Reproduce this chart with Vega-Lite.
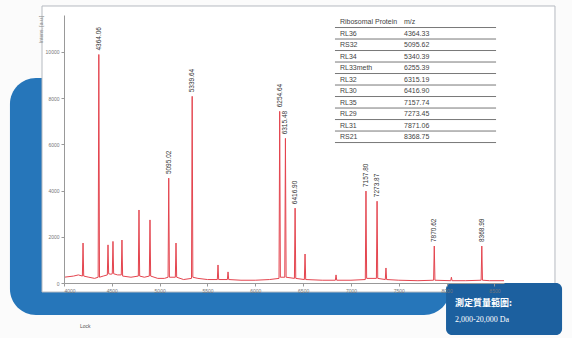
{
  "$schema": "https://vega.github.io/schema/vega-lite/v6.json",
  "width": 440,
  "height": 268,
  "autosize": {"type": "none"},
  "padding": {"left": 64, "top": 15, "right": 68, "bottom": 55},
  "background": "#fbfbfb",
  "config": {"view": {"stroke": null}, "font": "Liberation Sans"},
  "datasets": {
    "one": [{"k": 1}],
    "spectrum": [
      {"mz": 4000, "i": 250}, {"mz": 4100, "i": 300}, {"mz": 4150, "i": 350}, {"mz": 4192, "i": 300},
      {"mz": 4199, "i": 1730}, {"mz": 4206, "i": 300}, {"mz": 4260, "i": 250}, {"mz": 4320, "i": 200},
      {"mz": 4357, "i": 250}, {"mz": 4364, "i": 9890}, {"mz": 4371, "i": 250}, {"mz": 4410, "i": 300},
      {"mz": 4453, "i": 350}, {"mz": 4460, "i": 1650}, {"mz": 4467, "i": 400}, {"mz": 4490, "i": 380},
      {"mz": 4505, "i": 400}, {"mz": 4512, "i": 1800}, {"mz": 4519, "i": 400}, {"mz": 4560, "i": 350},
      {"mz": 4599, "i": 350}, {"mz": 4606, "i": 1860}, {"mz": 4613, "i": 300}, {"mz": 4700, "i": 250},
      {"mz": 4777, "i": 300}, {"mz": 4784, "i": 3160}, {"mz": 4791, "i": 300}, {"mz": 4840, "i": 250},
      {"mz": 4892, "i": 300}, {"mz": 4899, "i": 2730}, {"mz": 4906, "i": 300}, {"mz": 4980, "i": 200},
      {"mz": 5050, "i": 200}, {"mz": 5088, "i": 250}, {"mz": 5095, "i": 4540}, {"mz": 5102, "i": 250},
      {"mz": 5164, "i": 250}, {"mz": 5171, "i": 1730}, {"mz": 5178, "i": 250}, {"mz": 5250, "i": 150},
      {"mz": 5333, "i": 200}, {"mz": 5340, "i": 8080}, {"mz": 5347, "i": 250}, {"mz": 5400, "i": 200},
      {"mz": 5500, "i": 150}, {"mz": 5603, "i": 150}, {"mz": 5610, "i": 780}, {"mz": 5617, "i": 150},
      {"mz": 5708, "i": 150}, {"mz": 5715, "i": 480}, {"mz": 5722, "i": 150}, {"mz": 5850, "i": 120},
      {"mz": 6000, "i": 120}, {"mz": 6150, "i": 150}, {"mz": 6248, "i": 200}, {"mz": 6255, "i": 7430},
      {"mz": 6262, "i": 250}, {"mz": 6308, "i": 250}, {"mz": 6315, "i": 6260}, {"mz": 6322, "i": 250},
      {"mz": 6409, "i": 200}, {"mz": 6416, "i": 3240}, {"mz": 6423, "i": 200}, {"mz": 6513, "i": 150},
      {"mz": 6520, "i": 1255}, {"mz": 6527, "i": 150}, {"mz": 6700, "i": 120}, {"mz": 6837, "i": 120},
      {"mz": 6844, "i": 350}, {"mz": 6851, "i": 120}, {"mz": 7000, "i": 120}, {"mz": 7150, "i": 150},
      {"mz": 7157, "i": 3980}, {"mz": 7164, "i": 200}, {"mz": 7266, "i": 200}, {"mz": 7273, "i": 3540},
      {"mz": 7280, "i": 200}, {"mz": 7359, "i": 150}, {"mz": 7366, "i": 650}, {"mz": 7373, "i": 150},
      {"mz": 7500, "i": 120}, {"mz": 7700, "i": 100}, {"mz": 7864, "i": 120}, {"mz": 7871, "i": 1600},
      {"mz": 7878, "i": 120}, {"mz": 8043, "i": 100}, {"mz": 8050, "i": 250}, {"mz": 8057, "i": 100},
      {"mz": 8200, "i": 100}, {"mz": 8361, "i": 120}, {"mz": 8368, "i": 1600}, {"mz": 8375, "i": 120},
      {"mz": 8450, "i": 100}, {"mz": 8600, "i": 100}
    ],
    "peaks": [
      {"mz": 4364, "i": 9890, "label": "4364.06"},
      {"mz": 5095, "i": 4540, "label": "5095.02"},
      {"mz": 5340, "i": 8080, "label": "5339.64"},
      {"mz": 6255, "i": 7430, "label": "6254.64"},
      {"mz": 6315, "i": 6260, "label": "6315.48"},
      {"mz": 6416, "i": 3240, "label": "6416.90"},
      {"mz": 7157, "i": 3980, "label": "7157.80"},
      {"mz": 7273, "i": 3540, "label": "7273.87"},
      {"mz": 7871, "i": 1600, "label": "7870.62"},
      {"mz": 8368, "i": 1600, "label": "8368.99"}
    ],
    "table": [
      {"protein": "Ribosomal Protein", "value": "m/z"},
      {"protein": "RL36", "value": "4364.33"},
      {"protein": "RS32", "value": "5095.62"},
      {"protein": "RL34", "value": "5340.39"},
      {"protein": "RL33meth", "value": "6255.39"},
      {"protein": "RL32", "value": "6315.19"},
      {"protein": "RL30", "value": "6416.90"},
      {"protein": "RL35", "value": "7157.74"},
      {"protein": "RL29", "value": "7273.45"},
      {"protein": "RL31", "value": "7871.06"},
      {"protein": "RS21", "value": "8368.75"}
    ]
  },
  "resolve": {"scale": {"y": "independent"}},
  "layer": [
    {
      "layer": [
        {
          "data": {"name": "one"},
          "mark": {"type": "rect", "color": "#2676ba", "cornerRadius": 26, "clip": false},
          "encoding": {
            "x": {"datum": 3435, "type": "quantitative", "scale": {"domain": [4000, 8600], "nice": false, "zero": false},
              "axis": {"values": [4000, 4500, 5000, 5500, 6000, 6500, 7000, 7500, 8000, 8500], "format": "d", "title": null, "labelFontSize": 5, "labelColor": "#777", "tickSize": 3, "tickColor": "#999", "domainColor": "#999", "grid": false, "zindex": 1, "labelPadding": 2}},
            "x2": {"datum": 8036},
            "y": {"datum": 8873, "type": "quantitative", "scale": {"domain": [0, 11600], "nice": false},
              "axis": {"values": [0, 2000, 4000, 6000, 8000, 10000], "format": "d", "title": "Intens. [a.u.]", "titleFontSize": 5, "titleColor": "#888", "titleFontWeight": "normal", "titleAnchor": "end", "titlePadding": 2, "labelFontSize": 5, "labelColor": "#777", "tickSize": 3, "tickColor": "#999", "domainColor": "#999", "grid": false, "zindex": 1, "labelPadding": 2}},
            "y2": {"datum": -1385}
          }
        },
        {
          "data": {"name": "one"},
          "mark": {"type": "rect", "fill": "#ffffff", "stroke": "#b5bac0", "strokeWidth": 1, "clip": false},
          "encoding": {
            "x": {"datum": 3770, "type": "quantitative"},
            "x2": {"datum": 9133},
            "y": {"datum": 11990, "type": "quantitative"},
            "y2": {"datum": -390}
          }
        },
        {
          "data": {"name": "spectrum"},
          "mark": {"type": "line", "color": "#e4454f", "strokeWidth": 1},
          "encoding": {
            "x": {"field": "mz", "type": "quantitative"},
            "y": {"field": "i", "type": "quantitative"}
          }
        },
        {
          "data": {"name": "peaks"},
          "mark": {"type": "text", "angle": 270, "align": "left", "baseline": "middle", "dx": 4, "fontSize": 6.5, "color": "#333"},
          "encoding": {
            "x": {"field": "mz", "type": "quantitative"},
            "y": {"field": "i", "type": "quantitative"},
            "text": {"field": "label"}
          }
        },
        {
          "data": {"name": "one"},
          "mark": {"type": "rect", "color": "#1c609f", "cornerRadius": 6, "clip": false},
          "encoding": {
            "x": {"datum": 7994, "type": "quantitative"},
            "x2": {"datum": 9207},
            "y": {"datum": 0, "type": "quantitative"},
            "y2": {"datum": -2251}
          }
        },
        {
          "data": {"name": "one"},
          "mark": {"type": "text", "align": "left", "baseline": "middle", "color": "#ffffff", "fontSize": 9, "fontWeight": "bold", "font": "Noto Sans CJK TC", "clip": false},
          "encoding": {
            "x": {"datum": 8088, "type": "quantitative"},
            "y": {"datum": -866, "type": "quantitative"},
            "text": {"value": "測定質量範圍:"}
          }
        },
        {
          "data": {"name": "one"},
          "mark": {"type": "text", "align": "left", "baseline": "middle", "color": "#ffffff", "fontSize": 8, "font": "Liberation Serif", "clip": false},
          "encoding": {
            "x": {"datum": 8088, "type": "quantitative"},
            "y": {"datum": -1602, "type": "quantitative"},
            "text": {"value": "2,000-20,000 Da"}
          }
        },
        {
          "data": {"name": "one"},
          "mark": {"type": "text", "align": "left", "baseline": "middle", "color": "#555", "fontSize": 5, "clip": false},
          "encoding": {
            "x": {"datum": 4167, "type": "quantitative"},
            "y": {"datum": -1861, "type": "quantitative"},
            "text": {"value": "Lock"}
          }
        }
      ]
    },
    {
      "data": {"name": "table"},
      "transform": [{"window": [{"op": "row_number", "as": "row"}]}],
      "layer": [
        {
          "mark": {"type": "rule", "color": "#555", "strokeWidth": 0.8},
          "encoding": {
            "x": {"datum": 6833, "type": "quantitative"},
            "x2": {"datum": 8517},
            "y": {"field": "row", "type": "quantitative", "scale": {"domain": [0.39, 23.69], "reverse": true, "nice": false, "zero": false}, "axis": null},
            "yOffset": {"value": 5.5}
          }
        },
        {
          "mark": {"type": "text", "align": "left", "baseline": "middle", "fontSize": 7, "color": "#444"},
          "encoding": {
            "x": {"datum": 6885, "type": "quantitative"},
            "y": {"field": "row", "type": "quantitative"},
            "text": {"field": "protein"}
          }
        },
        {
          "mark": {"type": "text", "align": "left", "baseline": "middle", "fontSize": 7, "color": "#444"},
          "encoding": {
            "x": {"datum": 7555, "type": "quantitative"},
            "y": {"field": "row", "type": "quantitative"},
            "text": {"field": "value"}
          }
        }
      ]
    }
  ]
}
